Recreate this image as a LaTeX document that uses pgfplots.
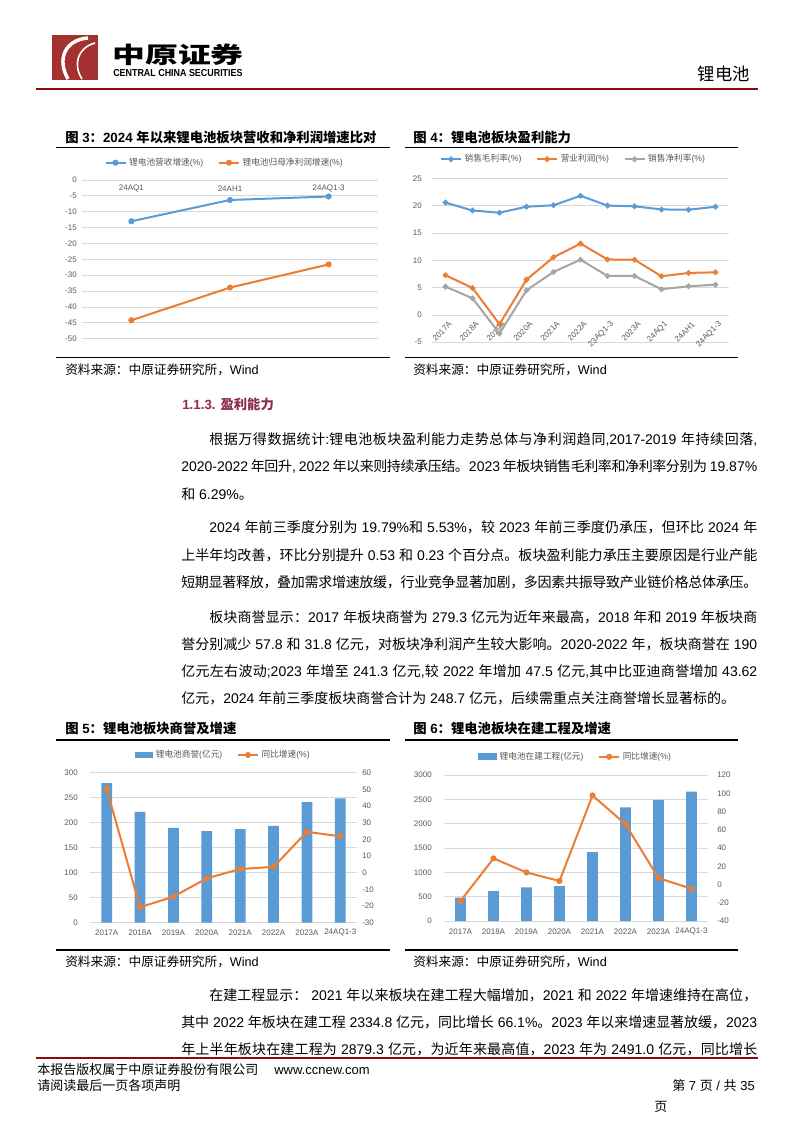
\documentclass[border=0pt]{standalone}
\usepackage{pgfplots}
\pgfplotsset{compat=1.18}
\usepackage{fontspec}
\setmainfont{Liberation Sans}
\newfontfamily\cjkfont{Noto Sans CJK SC}
\newfontfamily\latinfont{Liberation Sans}
\XeTeXinterchartokenstate=1
\newXeTeXintercharclass\cjkcls
\makeatletter
\def\setcjkrange#1#2{\@tempcnta=#1\relax
  \loop\XeTeXcharclass\@tempcnta=\cjkcls\relax
  \advance\@tempcnta by 1\relax
  \ifnum\@tempcnta<#2\relax\repeat}
\setcjkrange{"4E00}{"A000}
\setcjkrange{"3000}{"3040}
\setcjkrange{"FF00}{"FFF0}
\makeatother
\XeTeXinterchartoks 0 \cjkcls = {\cjkfont}
\XeTeXinterchartoks 4095 \cjkcls = {\cjkfont}
\XeTeXinterchartoks \cjkcls 0 = {\latinfont}
\XeTeXinterchartoks \cjkcls 4095 = {\latinfont}
\XeTeXinterchartoks \cjkcls \cjkcls = {\hskip0pt plus 1pt minus 0.3pt\relax}

\definecolor{xlblue}{HTML}{5B9BD5}
\definecolor{xlorange}{HTML}{ED7D31}
\definecolor{xlgray}{HTML}{A5A5A5}
\definecolor{gridc}{HTML}{D9D9D9}
\definecolor{lblc}{HTML}{595959}
\definecolor{hdred}{HTML}{8C0A0A}
\definecolor{logored}{HTML}{A3312F}
\definecolor{secc}{HTML}{8B2A4E}

\pgfplotsset{
  xl/.style={scale only axis, axis line style={draw=none}, tick style={draw=none}, major tick length=0pt,
    ymajorgrids, grid style={gridc, line width=0.6pt},
    ticklabel style={font=\fontsize{6}{7}\selectfont, text=lblc},
    /pgf/number format/assume math mode=true,
    /pgf/number format/1000 sep={},
    scaled ticks=false,
    legend style={draw=none, fill=none, legend columns=-1, font=\fontsize{6.5}{8}\selectfont, text=lblc, anchor=center,
      /tikz/every even column/.append style={column sep=9pt}},
    legend image code/.code={\draw[mark repeat=2,mark phase=2,##1] plot coordinates {(0pt,0pt)(7.5pt,0pt)(15pt,0pt)};},
    clip=false},
  ln/.style={#1, line width=1.5pt, mark=*, mark size=1.5pt, mark options={solid, fill=#1, draw=#1}},
}

\newcommand\bodyfull[2]{\node[anchor=west, inner sep=0pt, font=\fontsize{10.5}{12}\selectfont] at (181,#1) {\makebox[432pt][s]{#2}};}
\newcommand\bodyind[2]{\node[anchor=west, inner sep=0pt, font=\fontsize{10.5}{12}\selectfont] at (209,#1) {\makebox[411pt][s]{#2}};}
\newcommand\bodylast[2]{\node[anchor=west, inner sep=0pt, font=\fontsize{10.5}{12}\selectfont] at (181,#1) {#2};}

\begin{document}
\begin{tikzpicture}
\useasboundingbox[fill=white] (0,0) rectangle (595.5pt,-842.25pt);

% ---------- Chart 3
\begin{axis}[xl, at={(61.5pt,-254pt)}, anchor=south west, width=222pt, height=119pt,
  xmin=-0.5, xmax=2.5, ymin=-50, ymax=0, ytick={-50,-45,...,0},
  xtick={0,1,2}, xticklabels={24AQ1,24AH1,24AQ1-3},
  yticklabel style={anchor=east, inner sep=0pt, xshift=-3.75pt},
  xticklabel style={anchor=center, inner sep=0pt, yshift=112.3pt},
  legend style={at={(0.5,1.109)}, xshift=-3.75pt}]
\addplot[ln=xlblue] coordinates {(0,-13.0) (1,-6.3) (2,-5.2)};
\addlegendentry{锂电池营收增速(\%)}
\addplot[ln=xlorange] coordinates {(0,-44.2) (1,-33.9) (2,-26.6)};
\addlegendentry{锂电池归母净利润增速(\%)}
\end{axis}

% ---------- Chart 4
\begin{axis}[xl, at={(324pt,-256.7pt)}, anchor=south west, width=222.75pt, height=123pt,
  xmin=-0.5, xmax=10.5, ymin=-5, ymax=25, ytick={-5,0,...,25},
  xtick={0,...,10}, xticklabels={2017A,2018A,2019A,2020A,2021A,2022A,23AQ1-3,2023A,24AQ1,24AH1,24AQ1-3},
  yticklabel style={anchor=east, inner sep=0pt, xshift=-7.5pt},
  xticklabel style={xshift=3.75pt, yshift=14.5pt, rotate=45, anchor=east, inner sep=0pt},
  legend style={at={(0.5,1.116)}, xshift=-5pt}]
\addplot[ln=xlblue, mark size=1.3pt] coordinates {(0,20.55) (1,19.1) (2,18.7) (3,19.8) (4,20.06) (5,21.8) (6,20.0) (7,19.87) (8,19.3) (9,19.25) (10,19.79)};
\addlegendentry{销售毛利率(\%)}
\addplot[ln=xlorange, mark size=1.3pt] coordinates {(0,7.26) (1,4.94) (2,-1.7) (3,6.46) (4,10.55) (5,13.05) (6,10.15) (7,10.1) (8,7.07) (9,7.68) (10,7.8)};
\addlegendentry{营业利润(\%)}
\addplot[ln=xlgray, mark size=1.3pt] coordinates {(0,5.18) (1,3.05) (2,-3.4) (3,4.5) (4,7.87) (5,10.1) (6,7.13) (7,7.13) (8,4.7) (9,5.24) (10,5.53)};
\addlegendentry{销售净利率(\%)}
\end{axis}

% ---------- Chart 5
\begin{axis}[xl, at={(67.5pt,-692pt)}, anchor=south west, width=200.25pt, height=112.5pt,
  xmin=-0.5, xmax=7.5, ymin=0, ymax=300, ytick={0,50,...,300},
  xtick={0,...,7}, xticklabels={2017A,2018A,2019A,2020A,2021A,2022A,2023A,24AQ1-3},
  yticklabel style={anchor=east, inner sep=0pt, xshift=-9pt},
  xticklabel style={anchor=center, inner sep=0pt, yshift=-7.7pt},
  legend style={at={(0.5,1.118)}}]
\addplot[ybar, bar width=8pt, fill=xlblue, draw=none,
  legend image code/.code={\fill[xlblue] (0pt,-2.5pt) rectangle (14pt,2.5pt);}]
  coordinates {(0,279.3) (1,221.5) (2,189.7) (3,183.3) (4,187.3) (5,193.8) (6,241.3) (7,248.7)};
\addlegendentry{锂电池商誉(亿元)}
\addlegendimage{ln=xlorange}
\addlegendentry{同比增速(\%)}
\end{axis}
\begin{axis}[xl, ymajorgrids=false, at={(67.5pt,-692pt)}, anchor=south west, width=200.25pt, height=112.5pt,
  xmin=-0.5, xmax=7.5, ymin=-30, ymax=60, ytick={-30,-20,...,60}, xtick=\empty,
  yticklabel pos=right,
  yticklabel style={anchor=west, inner sep=0pt, xshift=3.75pt}]
\addplot[ln=xlorange] coordinates {(0,50.2) (1,-20.7) (2,-14.4) (3,-3.4) (4,2.2) (5,3.5) (6,24.5) (7,21.8)};
\end{axis}

% ---------- Chart 6
\begin{axis}[xl, at={(333pt,-690.75pt)}, anchor=south west, width=198pt, height=109.5pt,
  xmin=-0.5, xmax=7.5, ymin=0, ymax=3000, ytick={0,500,...,3000},
  xtick={0,...,7}, xticklabels={2017A,2018A,2019A,2020A,2021A,2022A,2023A,24AQ1-3},
  yticklabel style={anchor=east, inner sep=0pt, xshift=-9pt},
  xticklabel style={anchor=center, inner sep=0pt, yshift=-8pt},
  legend style={at={(0.5,1.125)}}]
\addplot[ybar, bar width=8pt, fill=xlblue, draw=none,
  legend image code/.code={\fill[xlblue] (0pt,-2.5pt) rectangle (14pt,2.5pt);}]
  coordinates {(0,479) (1,616) (2,692) (3,719) (4,1416) (5,2334.8) (6,2491.0) (7,2658)};
\addlegendentry{锂电池在建工程(亿元)}
\addlegendimage{ln=xlorange}
\addlegendentry{同比增速(\%)}
\end{axis}
\begin{axis}[xl, ymajorgrids=false, at={(333pt,-690.75pt)}, anchor=south west, width=198pt, height=109.5pt,
  xmin=-0.5, xmax=7.5, ymin=-40, ymax=120, ytick={-40,-20,...,120}, xtick=\empty,
  yticklabel pos=right,
  yticklabel style={anchor=west, inner sep=0pt, xshift=6.75pt}]
\addplot[ln=xlorange] coordinates {(0,-18.1) (1,28.6) (2,13.2) (3,3.9) (4,97.6) (5,66.1) (6,7.0) (7,-4.6)};
\end{axis}

% ---------- page furniture (px coordinates)
\begin{scope}[x=0.75pt, y=-0.75pt]
% header
\fill[logored] (52,35) rectangle (98,80);
\draw[white, line width=2.6pt] (88,38) .. controls (64,40) and (57,60) .. (68,79);
\draw[white, line width=1.2pt] (95,43) .. controls (77,48) and (73,65) .. (82,79);
\node[anchor=west, inner sep=0pt, font=\bfseries\fontsize{17}{18}\selectfont] at (112,54.5) {\scalebox{1.45}[1]{中原证券}};
\node[anchor=west, inner sep=0pt, font=\bfseries\fontsize{7.6}{8}\selectfont] at (113,73.5) {\scalebox{0.88}[1]{CENTRAL CHINA SECURITIES}};
\node[anchor=east, inner sep=0pt, font=\fontsize{13}{15}\selectfont] at (750,74) {锂电池};
\draw[hdred, line width=1.9pt] (36,89) -- (758,89);

% chart titles and rules
\node[anchor=west, inner sep=0pt, font=\bfseries\fontsize{10}{12}\selectfont] at (65,137) {图 3：2024 年以来锂电池板块营收和净利润增速比对};
\node[anchor=west, inner sep=0pt, font=\bfseries\fontsize{10}{12}\selectfont] at (413,137) {图 4：锂电池板块盈利能力};
\draw[black, line width=1.1pt] (56,147.7) -- (390,147.7);
\draw[black, line width=1.1pt] (405,147.7) -- (738,147.7);
\draw[black, line width=1.1pt] (56,357.3) -- (390,357.3);
\draw[black, line width=1.1pt] (405,357.3) -- (738,357.3);
\node[anchor=west, inner sep=0pt, font=\fontsize{9.5}{11}\selectfont] at (65,370) {资料来源：中原证券研究所，Wind};
\node[anchor=west, inner sep=0pt, font=\fontsize{9.5}{11}\selectfont] at (413,370) {资料来源：中原证券研究所，Wind};

\node[anchor=west, inner sep=0pt, font=\bfseries\fontsize{10}{12}\selectfont] at (65,728) {图 5：锂电池板块商誉及增速};
\node[anchor=west, inner sep=0pt, font=\bfseries\fontsize{10}{12}\selectfont] at (413,728) {图 6：锂电池板块在建工程及增速};
\draw[black, line width=1.1pt] (56,740) -- (390,740);
\draw[black, line width=1.1pt] (405,740) -- (738,740);
\draw[black, line width=1.1pt] (56,950) -- (390,950);
\draw[black, line width=1.1pt] (405,950) -- (738,950);
\node[anchor=west, inner sep=0pt, font=\fontsize{9.5}{11}\selectfont] at (65,961.5) {资料来源：中原证券研究所，Wind};
\node[anchor=west, inner sep=0pt, font=\fontsize{9.5}{11}\selectfont] at (413,961.5) {资料来源：中原证券研究所，Wind};

% body text
\node[anchor=west, inner sep=0pt, text=secc, font=\bfseries\fontsize{10}{12}\selectfont] at (182,404) {1.1.3. 盈利能力};
\bodyind{439}{根据万得数据统计:锂电池板块盈利能力走势总体与净利润趋同,2017-2019 年持续回落,}
\bodyfull{466.5}{2020-2022 年回升, 2022 年以来则持续承压结。2023 年板块销售毛利率和净利率分别为 19.87\%}
\bodylast{494}{和 6.29\%。}
\bodyind{527.5}{2024 年前三季度分别为 19.79\%和 5.53\%，较 2023 年前三季度仍承压，但环比 2024 年}
\bodyfull{555}{上半年均改善，环比分别提升 0.53 和 0.23 个百分点。板块盈利能力承压主要原因是行业产能}
\bodyfull{582.5}{短期显著释放，叠加需求增速放缓，行业竞争显著加剧，多因素共振导致产业链价格总体承压。}
\bodyind{617}{板块商誉显示：2017 年板块商誉为 279.3 亿元为近年来最高，2018 年和 2019 年板块商}
\bodyfull{644}{誉分别减少 57.8 和 31.8 亿元，对板块净利润产生较大影响。2020-2022 年，板块商誉在 190}
\bodyfull{671}{亿元左右波动;2023 年增至 241.3 亿元,较 2022 年增加 47.5 亿元,其中比亚迪商誉增加 43.62}
\bodylast{698.5}{亿元，2024 年前三季度板块商誉合计为 248.7 亿元，后续需重点关注商誉增长显著标的。}
\bodyind{995.5}{在建工程显示： 2021 年以来板块在建工程大幅增加，2021 和 2022 年增速维持在高位，}
\bodyfull{1022.5}{其中 2022 年板块在建工程 2334.8 亿元，同比增长 66.1\%。2023 年以来增速显著放缓，2023}
\bodyfull{1049}{年上半年板块在建工程为 2879.3 亿元，为近年来最高值，2023 年为 2491.0 亿元，同比增长}

% footer
\draw[hdred, line width=1.5pt] (36,1057.5) -- (758,1057.5);
\node[anchor=west, inner sep=0pt, font=\fontsize{9.75}{11}\selectfont] at (37,1069.5) {本报告版权属于中原证券股份有限公司\hspace{12pt}www.ccnew.com};
\node[anchor=west, inner sep=0pt, font=\fontsize{9.75}{11}\selectfont] at (37,1086) {请阅读最后一页各项声明};
\node[anchor=east, inner sep=0pt, font=\fontsize{9.75}{11}\selectfont] at (755,1086) {第 7 页 / 共 35};
\node[anchor=west, inner sep=0pt, font=\fontsize{9.75}{11}\selectfont] at (654,1107) {页};
\end{scope}
\end{tikzpicture}
\end{document}
